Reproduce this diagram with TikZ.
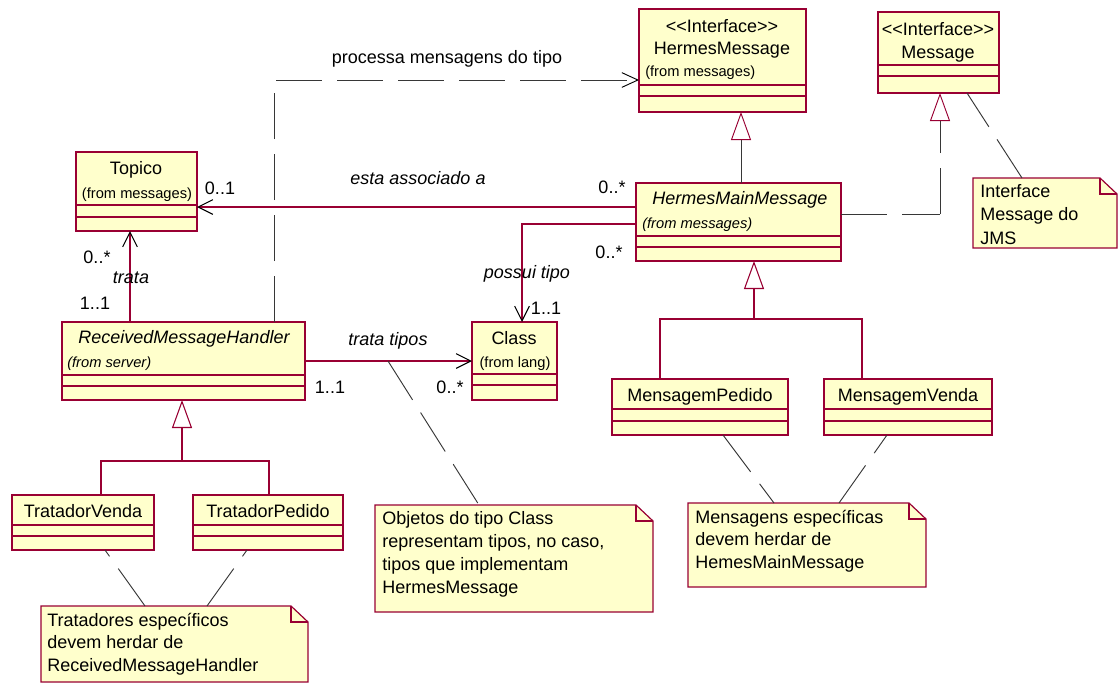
\documentclass[tikz,border=0pt]{standalone}
\usepackage{fontspec}
\setmainfont{Liberation Sans}
\usetikzlibrary{arrows.meta,calc}
\definecolor{crim}{RGB}{153,0,51}
\definecolor{boxfill}{RGB}{255,255,204}
\definecolor{dashgray}{RGB}{55,55,55}

% class box: name, x1, y1, x2, y2, first separator y, second separator y
\newcommand{\umlclass}[7]{%
  \node[classbox, minimum width={(#4-#2)*0.75pt}, minimum height={(#5-#3)*0.75pt}] (#1) at (#2,#3) {};
  \draw[crimline] (#1.west |- 0,#6) -- (#1.east |- 0,#6)
                  (#1.west |- 0,#7) -- (#1.east |- 0,#7);
}
% note with folded corner: name, x1, y1, x2, y2
\newcommand{\umlnote}[5]{%
  \node[anchor=north west, inner sep=0, outer sep=0, minimum width={(#4-#2)*0.75pt}, minimum height={(#5-#3)*0.75pt}] (#1) at (#2,#3) {};
  \draw[notebox] (#1.north west) -- ($(#1.north east)+(-17,0)$) -- ($(#1.north east)+(0,16)$)
     -- (#1.south east) -- (#1.south west) -- cycle;
  \draw[crimline] ($(#1.north east)+(-17,0)$) |- ($(#1.north east)+(0,16)$);
}

\begin{document}
\begin{tikzpicture}[x=0.75pt, y=-0.75pt,
  classbox/.style={draw=crim, fill=boxfill, line width=0.9pt, anchor=north west, inner sep=0, outer sep=0},
  notebox/.style={draw=crim, fill=boxfill, line width=0.9pt},
  crimline/.style={draw=crim, line width=0.8pt},
  dashline/.style={draw=dashgray, line width=0.7pt, dash pattern=on 34.5pt off 11.25pt},
  assoc/.style={crimline, -{Straight Barb[length=11pt, width=11pt, color=black]}},
  dep/.style={dashline, -{Straight Barb[length=12pt, width=11pt, color=black]}},
  gentip/.style={-{Triangle[length=21pt, width=15pt, color=crim, fill=white]}},
  txt/.style={inner sep=0, text height=9.7pt, text depth=0pt, font=\fontsize{13.5}{16}\selectfont},
  itx/.style={inner sep=0, text height=9.7pt, text depth=0pt, font=\fontsize{13.5}{16}\selectfont\itshape},
  sm/.style={inner sep=0, text height=7.9pt, text depth=0pt, font=\fontsize{11}{13}\selectfont},
  smit/.style={inner sep=0, text height=7.9pt, text depth=0pt, font=\fontsize{11}{13}\selectfont\itshape},
  notetxt/.style={txt, anchor=west}
]
\fill[white] (0,0) rectangle (1118,683);
\useasboundingbox (0,0) rectangle (1118,683);

% ---- classes ----
\umlclass{hmsg}{639}{9}{806}{112}{85}{96}
\umlclass{msg}{878}{12}{999}{93}{65}{76}
\umlclass{topico}{76}{152}{197}{231}{205}{217}
\umlclass{hmm}{636}{183}{841}{261}{236}{247}
\umlclass{rmh}{62}{322}{305}{400}{375}{386}
\umlclass{cls}{472}{322}{557}{400}{374}{385}
\umlclass{mped}{612}{379}{788}{435}{409}{421}
\umlclass{mven}{824}{379}{992}{435}{409}{421}
\umlclass{tven}{12}{495}{154}{550}{525}{536}
\umlclass{tped}{193}{495}{343}{550}{525}{536}

\node[txt] (hmsg-st) at (722,26) {<\kern0pt<Interface>\kern0pt>};
\node[txt] (hmsg-nm) at (722,48) {HermesMessage};
\node[sm, anchor=west] (hmsg-fr) at (645,71) {(from messages)};
\node[txt] (msg-st) at (938,29) {<\kern0pt<Interface>\kern0pt>};
\node[txt] (msg-nm) at (938,52) {Message};
\node[txt] (topico-nm) at (136,168) {Topico};
\node[sm] (topico-fr) at (137,193) {(from messages)};
\node[itx] (hmm-nm) at (740,198) {HermesMainMessage};
\node[smit, anchor=west] (hmm-fr) at (642,223) {(from messages)};
\node[itx] (rmh-nm) at (184,337) {ReceivedMessageHandler};
\node[smit, anchor=west] (rmh-fr) at (67,362) {(from server)};
\node[txt] (cls-nm) at (514,338) {Class};
\node[sm] (cls-fr) at (515,362) {(from lang)};
\node[txt] (mped-nm) at (700,395) {MensagemPedido};
\node[txt] (mven-nm) at (908,395) {MensagemVenda};
\node[txt] (tven-nm) at (83,511) {TratadorVenda};
\node[txt] (tped-nm) at (268,511) {TratadorPedido};

% ---- notes ----
\umlnote{njms}{973}{178}{1117}{248}
\umlnote{nobj}{375}{505}{653}{612}
\umlnote{nmsg}{688}{503}{926}{587}
\umlnote{ntrat}{41}{606}{308}{682}

\node[notetxt] (njms-1) at (980,191) {Interface};
\node[notetxt] (njms-2) at (980,214) {Message do};
\node[notetxt] (njms-3) at (980,238) {JMS};
\node[notetxt] (nobj-1) at (382,518) {Objetos do tipo Class};
\node[notetxt] (nobj-2) at (382,541) {representam tipos, no caso,};
\node[notetxt] (nobj-3) at (382,564) {tipos que implementam};
\node[notetxt] (nobj-4) at (382,587) {HermesMessage};
\node[notetxt] (nmsg-1) at (695,517) {Mensagens específicas};
\node[notetxt] (nmsg-2) at (695,539) {devem herdar de};
\node[notetxt] (nmsg-3) at (695,562) {HemesMainMessage};
\node[notetxt] (ntrat-1) at (47,620) {Tratadores específicos};
\node[notetxt] (ntrat-2) at (47,642) {devem herdar de};
\node[notetxt] (ntrat-3) at (47,665) {ReceivedMessageHandler};

% ---- dependency ----
\draw[dep] ($(rmh.north west)+(212,0)$) |- (hmsg.west |- 0,80);
\node[txt] (lbl-proc) at (447,57) {processa mensagens do tipo};

% ---- realizations ----
\draw[dashline, gentip] ($(hmm.north west)+(105,0)$) -- ($(hmsg.south west)+(102,0)$);
\coordinate (rcorner) at ($(msg.south west)+(62,121)$);
\draw[dashline] (hmm.east |- rcorner) -- (rcorner);
\draw[dashline, gentip] (rcorner) -- ($(msg.south west)+(62,0)$);

% ---- associations ----
\draw[assoc] (hmm.west |- 0,207) -- (topico.east |- 0,207);
\node[itx] (lbl-esta) at (418,178) {esta associado a};
\node[txt] (lbl-01) at (220,188) {0..1};
\node[txt] (lbl-0s1) at (612,187) {0..*};

\draw[assoc] ($(rmh.north west)+(68,0)$) -- ($(topico.south west)+(54,0)$);
\node[txt] (lbl-0s2) at (97,257) {0..*};
\node[itx] (lbl-trata) at (131,277) {trata};
\node[txt] (lbl-11a) at (95,303) {1..1};

\draw[assoc] (hmm.west |- 0,224) -| ($(cls.north west)+(50,0)$);
\node[itx] (lbl-possui) at (527,272) {possui tipo};
\node[txt] (lbl-11b) at (546,308) {1..1};
\node[txt] (lbl-0s3) at (609,252) {0..*};

\draw[assoc] (rmh.east |- 0,361) -- (cls.west |- 0,361);
\coordinate (ttmid) at ($(rmh.east |- 0,361)+(83,0)$);
\node[itx] (lbl-tt) at (388,339) {trata tipos};
\node[txt] (lbl-11c) at (330,387) {1..1};
\node[txt] (lbl-0s4) at (450,387) {0..*};

% ---- generalizations ----
\draw[crimline, gentip] ($(hmm.south west)+(118,58)$) -- ($(hmm.south west)+(118,0)$);
\draw[crimline] ($(mped.north west)+(48,0)$) |- ($(mven.north west)+(38,-60)$) -- ($(mven.north west)+(38,0)$);
\draw[crimline, gentip] ($(rmh.south west)+(120,61)$) -- ($(rmh.south west)+(120,0)$);
\draw[crimline] ($(tven.north west)+(89,0)$) |- ($(tped.north west)+(76,-34)$) -- ($(tped.north west)+(76,0)$);

% ---- note anchors ----
\draw[dashline] ($(njms.north west)+(49,0)$) -- ($(msg.south west)+(89,0)$);
\draw[dashline] (ttmid) -- ($(nobj.north west)+(104,0)$);
\draw[dashline] ($(mped.south west)+(111,0)$) -- ($(nmsg.north west)+(86,0)$);
\draw[dashline] ($(nmsg.north west)+(151,0)$) -- ($(mven.south west)+(63,0)$);
\draw[dashline] ($(ntrat.north west)+(104,0)$) -- ($(tven.south west)+(93,0)$);
\draw[dashline] ($(ntrat.north west)+(166,0)$) -- ($(tped.south west)+(54,0)$);
\end{tikzpicture}
\end{document}
